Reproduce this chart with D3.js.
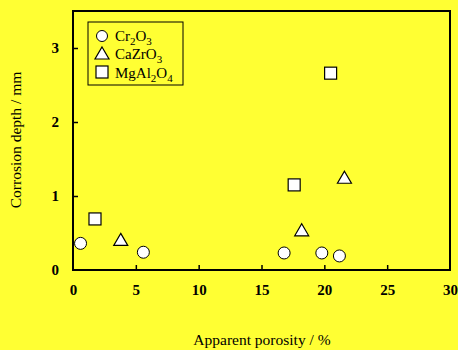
<!DOCTYPE html>
<html>
<head>
<meta charset="utf-8">
<script src="https://cdn.jsdelivr.net/npm/d3@7"></script>
<style>
  body { margin: 0; background: #ffff33; }
  text { font-family: "Liberation Serif", "Times New Roman", serif; }
</style>
</head>
<body>
<div id="chart"></div>
<script>
var width = 458, height = 350;
var margin = {top: 11, right: 8, bottom: 80, left: 73};

// data: [porosity %, depth mm]
var cr2o3 = [[0.6, 0.36], [5.6, 0.24], [16.8, 0.23], [19.8, 0.23], [21.2, 0.19]];
var cazro3 = [[3.8, 0.40], [18.2, 0.53], [21.6, 1.24]];
var mgal2o4 = [[1.75, 0.69], [17.6, 1.15], [20.5, 2.66]];
var xTicks = [0, 5, 10, 15, 20, 25, 30];
var yTicks = [0, 1, 2, 3];

var x = d3.scaleLinear()
          .domain([0, 30])
          .range([margin.left, 450]);
var y = d3.scaleLinear()
          .domain([0, 3.5])
          .range([270, margin.top]);

var svg = d3.select("#chart")
            .append("svg")
            .attr("width", width)
            .attr("height", height);

svg.append("rect")
   .attr("width", width)
   .attr("height", height)
   .style("fill", "#ffff33");

// frame
svg.append("rect")
   .attr("x", x(0))
   .attr("y", y(3.5))
   .attr("width", x(30) - x(0))
   .attr("height", y(0) - y(3.5))
   .style("fill", "none")
   .style("stroke", "#000")
   .style("stroke-width", 2);

var xAxis = svg.append("g")
               .attr("transform", "translate(0," + y(0) + ")")
               .call(d3.axisBottom(x).tickValues(xTicks).tickFormat(d3.format("d"))
                       .tickSizeInner(-5).tickSizeOuter(0).tickPadding(14));
var yAxis = svg.append("g")
               .attr("transform", "translate(" + x(0) + ",0)")
               .call(d3.axisLeft(y).tickValues(yTicks).tickFormat(d3.format("d"))
                       .tickSizeInner(-5).tickSizeOuter(0).tickPadding(14));

[xAxis, yAxis].forEach(function(a){
    a.select(".domain").remove();
    a.selectAll("line").style("stroke", "#000").style("stroke-width", 1.5);
    a.selectAll("text")
     .style("font-family", "'Liberation Serif', serif")
     .style("font-size", "15px")
     .style("font-weight", "bold")
     .style("fill", "#000");
});
xAxis.selectAll(".tick").filter(d => d == 0 || d == 30).select("line").remove();
yAxis.selectAll(".tick").filter(d => d == 0).select("line").remove();

// axis titles
svg.append("text")
   .attr("x", 262)
   .attr("y", 345)
   .attr("text-anchor", "middle")
   .style("font-size", "15.5px")
   .text("Apparent porosity / %");

svg.append("text")
   .attr("transform", "translate(21,140) rotate(-90)")
   .attr("text-anchor", "middle")
   .style("font-size", "15.5px")
   .text("Corrosion depth / mm");

// markers
function circles(g, data){
    g.selectAll("circle.m").data(data).enter()
     .append("circle")
     .attr("class", "m")
     .attr("cx", d => x(d[0]))
     .attr("cy", d => y(d[1]))
     .attr("r", 6)
     .style("fill", "#fff")
     .style("stroke", "#000")
     .style("stroke-width", 1);
}
function triangles(g, data){
    g.selectAll("path.m").data(data).enter()
     .append("path")
     .attr("class", "m")
     .attr("d", "M0,-7L7,5L-7,5Z")
     .attr("transform", d => "translate(" + x(d[0]) + "," + y(d[1]) + ")")
     .style("fill", "#fff")
     .style("stroke", "#000")
     .style("stroke-width", 1.2);
}
function squares(g, data){
    g.selectAll("rect.m").data(data).enter()
     .append("rect")
     .attr("class", "m")
     .attr("x", d => x(d[0]) - 6)
     .attr("y", d => y(d[1]) - 6)
     .attr("width", 12)
     .attr("height", 12)
     .style("fill", "#fff")
     .style("stroke", "#000")
     .style("stroke-width", 1.2);
}

circles(svg.append("g"), cr2o3);
triangles(svg.append("g"), cazro3);
squares(svg.append("g"), mgal2o4);

// legend
var legend = svg.append("g");
legend.append("rect")
      .attr("x", 88)
      .attr("y", 22)
      .attr("width", 95)
      .attr("height", 63)
      .style("fill", "none")
      .style("stroke", "#000")
      .style("stroke-width", 1);

var lx = 102;
legend.append("circle").attr("cx", lx).attr("cy", 36).attr("r", 5.5)
      .style("fill", "#fff").style("stroke", "#000");
legend.append("path").attr("d", "M0,-7L7,5L-7,5Z")
      .attr("transform", "translate(" + lx + ",54)")
      .style("fill", "#fff").style("stroke", "#000").style("stroke-width", 1.2);
legend.append("rect").attr("x", lx - 6).attr("y", 66).attr("width", 12).attr("height", 12)
      .style("fill", "#fff").style("stroke", "#000").style("stroke-width", 1.2);

function formula(yPos, parts){
    var t = legend.append("text")
                  .attr("x", 115)
                  .attr("y", yPos)
                  .style("font-size", "15px");
    parts.forEach(function(p){
        var s = t.append("tspan").text(p[0]);
        if (p[1]) s.attr("dy", "4").style("font-size", "11px");
        else if (p[2]) s.attr("dy", "-4");
    });
}
formula(41, [["Cr"], ["2", true], ["O", false, true], ["3", true]]);
formula(59, [["CaZrO"], ["3", true]]);
formula(78, [["MgAl"], ["2", true], ["O", false, true], ["4", true]]);
</script>
</body>
</html>
